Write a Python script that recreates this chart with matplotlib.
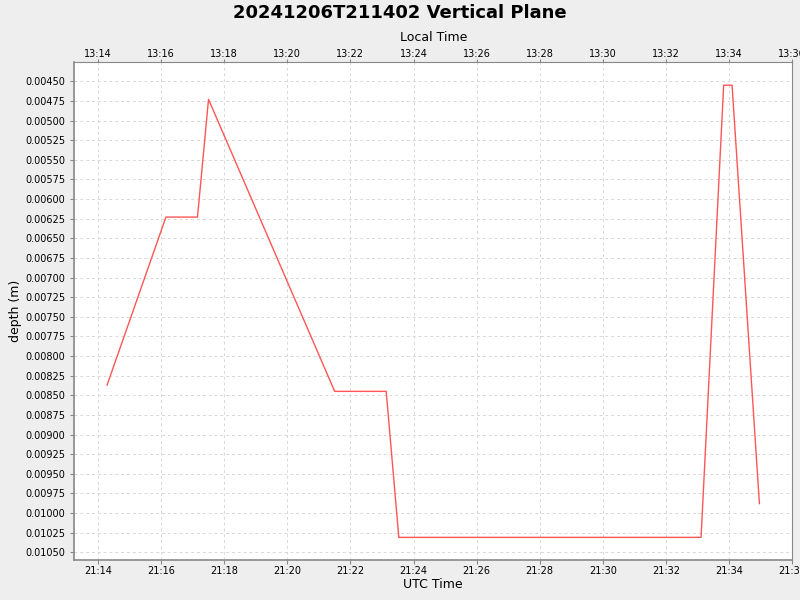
import datetime as dt
import matplotlib
matplotlib.use("Agg")
import matplotlib.pyplot as plt
import matplotlib.dates as mdates
from matplotlib.ticker import MultipleLocator, FormatStrFormatter

# ── Data ──────────────────────────────────────────────────────────────────────
utc_times = ["21:14:17", "21:16:09", "21:17:09", "21:17:30", "21:21:30",
             "21:23:08", "21:23:32", "21:33:07", "21:33:50", "21:34:06",
             "21:34:58"]
depth_m = [0.00837, 0.00623, 0.00623, 0.00473, 0.00845,
           0.00845, 0.01031, 0.01031, 0.00455, 0.00455,
           0.00988]

day = dt.date(2024, 12, 6)
utc_offset = dt.timedelta(hours=-8)

t = [dt.datetime.combine(day, dt.datetime.strptime(s, "%H:%M:%S").time())
     for s in utc_times]

x0 = dt.datetime(2024, 12, 6, 21, 13, 15)
x1 = dt.datetime(2024, 12, 6, 21, 36, 0)

# ── Figure ────────────────────────────────────────────────────────────────────
fig = plt.figure(figsize=(8, 6), dpi=100)
fig.patch.set_facecolor("#EEEEEE")
ax = fig.add_axes([0.0931, 0.0667, 0.8969, 0.83])
ax.set_facecolor("white")

ax.plot(t, depth_m, color="#FF5555", linewidth=1.0)

ax.set_xlim(x0, x1)
ax.set_ylim(0.010598, 0.004254)
ax.yaxis.set_major_locator(MultipleLocator(0.00025))
ax.yaxis.set_major_formatter(FormatStrFormatter("%.5f"))
ax.xaxis.set_major_locator(mdates.MinuteLocator(byminute=range(0, 60, 2)))
ax.xaxis.set_major_formatter(mdates.DateFormatter("%H:%M"))

ax.grid(True, color="#D8D8D8", linestyle=(0, (3, 3)), linewidth=0.7)
ax.set_axisbelow(True)
for side in ("left", "bottom", "top", "right"):
    ax.spines[side].set_color("#888888")
ax.spines["left"].set_linewidth(1.2)
ax.spines["bottom"].set_linewidth(1.2)
ax.spines["top"].set_linewidth(0.8)
ax.spines["right"].set_linewidth(0.8)

ax.tick_params(axis="both", labelsize=7, color="#888888", length=3, width=0.8)
ax.tick_params(axis="x", pad=1.5)
ax.set_xlabel("UTC Time", fontsize=9, labelpad=1)
ax.set_ylabel("depth (m)", fontsize=9, labelpad=2.5)

# top axis — local time
top = ax.twiny()
top.set_xlim(x0 + utc_offset, x1 + utc_offset)
top.xaxis.set_major_locator(mdates.MinuteLocator(byminute=range(0, 60, 2)))
top.xaxis.set_major_formatter(mdates.DateFormatter("%H:%M"))
top.tick_params(axis="x", labelsize=7, color="#888888", length=2, width=0.8,
                pad=0.5)
top.set_xlabel("Local Time", fontsize=9, labelpad=5.5)
for side in ("left", "bottom", "top", "right"):
    top.spines[side].set_visible(False)

fig.suptitle("20241206T211402 Vertical Plane", fontsize=13, fontweight="bold",
             y=0.993)

fig.savefig("out.png", dpi=100, facecolor=fig.get_facecolor())
